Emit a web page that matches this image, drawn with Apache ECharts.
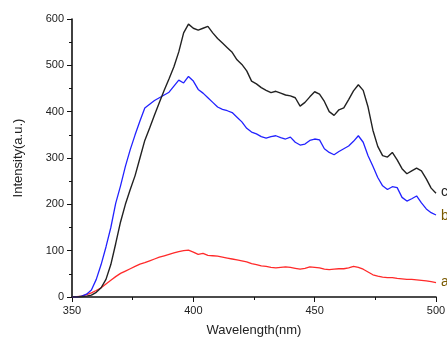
<!DOCTYPE html>
<html>
<head>
<meta charset="utf-8">
<script src="https://cdn.jsdelivr.net/npm/echarts@6/dist/echarts.min.js"></script>
<style>
  html, body { margin: 0; padding: 0; background: #fff; }
  #chart { width: 447px; height: 339px; }
</style>
</head>
<body>
<div id="chart"></div>
<script>
// wavelength grid (nm), 2 nm step
const wavelength = [];
for (let w = 350; w <= 500; w += 2) wavelength.push(w);

// curve a (red)
const seriesA = [0, 1, 2, 5, 9, 14, 20, 28, 36, 44, 51, 56, 61, 66, 71, 74, 78, 82, 86, 89,
  92, 95, 98, 100, 101, 97, 92, 94, 90, 89, 88, 86, 84, 82, 80, 78, 76, 72, 70, 67,
  66, 64, 63, 64, 65, 64, 62, 60, 62, 65, 64, 63, 60, 59, 60, 61, 61, 63, 66, 64,
  60, 54, 48, 45, 43, 42, 42, 40, 39, 38, 38, 37, 36, 35, 33, 31];

// curve b (blue)
const seriesB = [0, 0, 2, 6, 15, 38, 70, 108, 150, 202, 240, 282, 318, 350, 380, 408, 416, 424, 430, 436,
  442, 455, 468, 462, 476, 466, 448, 440, 430, 420, 410, 405, 402, 398, 388, 378, 364, 356, 352, 346,
  343, 346, 348, 344, 341, 345, 334, 328, 330, 338, 341, 339, 320, 312, 307, 314, 320, 326, 336, 348,
  334, 305, 282, 258, 240, 232, 238, 236, 215, 207, 212, 218, 203, 190, 182, 177];

// curve c (black)
const seriesC = [0, 0, 1, 2, 4, 10, 20, 38, 70, 115, 162, 200, 232, 262, 300, 338, 365, 393, 420, 446,
  471, 497, 529, 570, 589, 580, 576, 580, 584, 570, 558, 548, 538, 528, 512, 502, 488, 466, 460, 452,
  446, 441, 444, 440, 436, 434, 430, 412, 420, 432, 443, 438, 422, 400, 392, 404, 408, 426, 445, 458,
  446, 410, 360, 325, 305, 302, 312, 296, 277, 266, 272, 278, 272, 255, 235, 224];

const pairs = vals => wavelength.map((w, i) => [w, vals[i]]);

const chart = echarts.init(document.getElementById('chart'));
const axisCommon = {
  axisLine: { show: true, lineStyle: { color: '#111', width: 1.6 } },
  axisTick: { show: true, inside: false, length: 5, lineStyle: { color: '#111', width: 1 } },
  minorTick: { show: true, splitNumber: 2, length: 3, lineStyle: { color: '#111', width: 1 } },
  splitLine: { show: false },
  axisLabel: { color: '#222', fontSize: 11, fontFamily: 'Liberation Sans' },
  nameTextStyle: { color: '#222', fontSize: 13, fontFamily: 'Liberation Sans' }
};

chart.setOption({
  animation: false,
  grid: { left: 72, right: 11, top: 19, bottom: 42, outerBoundsMode: 'none', containLabel: false },
  xAxis: Object.assign({}, axisCommon, {
    type: 'value', min: 350, max: 500, interval: 50,
    name: 'Wavelength(nm)', nameLocation: 'middle', nameGap: 27,
    axisLabel: Object.assign({}, axisCommon.axisLabel, { margin: 8 })
  }),
  yAxis: Object.assign({}, axisCommon, {
    type: 'value', min: 0, max: 600, interval: 100,
    name: 'Intensity(a.u.)', nameLocation: 'middle', nameGap: 47,
    axisLabel: Object.assign({}, axisCommon.axisLabel, { margin: 8 })
  }),
  series: [
    { name: 'a', type: 'line', data: pairs(seriesA), showSymbol: false, smooth: false,
      lineStyle: { color: '#ff2a2a', width: 1.3 } },
    { name: 'b', type: 'line', data: pairs(seriesB), showSymbol: false, smooth: false,
      lineStyle: { color: '#2222ff', width: 1.3 } },
    { name: 'c', type: 'line', data: pairs(seriesC), showSymbol: false, smooth: false,
      lineStyle: { color: '#222222', width: 1.4 } }
  ],
  graphic: [
    { type: 'text', left: 441, top: 185, style: { text: 'c', fill: '#222', fontSize: 14, fontFamily: 'Liberation Sans' } },
    { type: 'text', left: 441, top: 209, style: { text: 'b', fill: '#7a5a00', fontSize: 14, fontFamily: 'Liberation Sans' } },
    { type: 'text', left: 441, top: 275, style: { text: 'a', fill: '#7a5a00', fontSize: 14, fontFamily: 'Liberation Sans' } }
  ]
});
</script>
</body>
</html>
